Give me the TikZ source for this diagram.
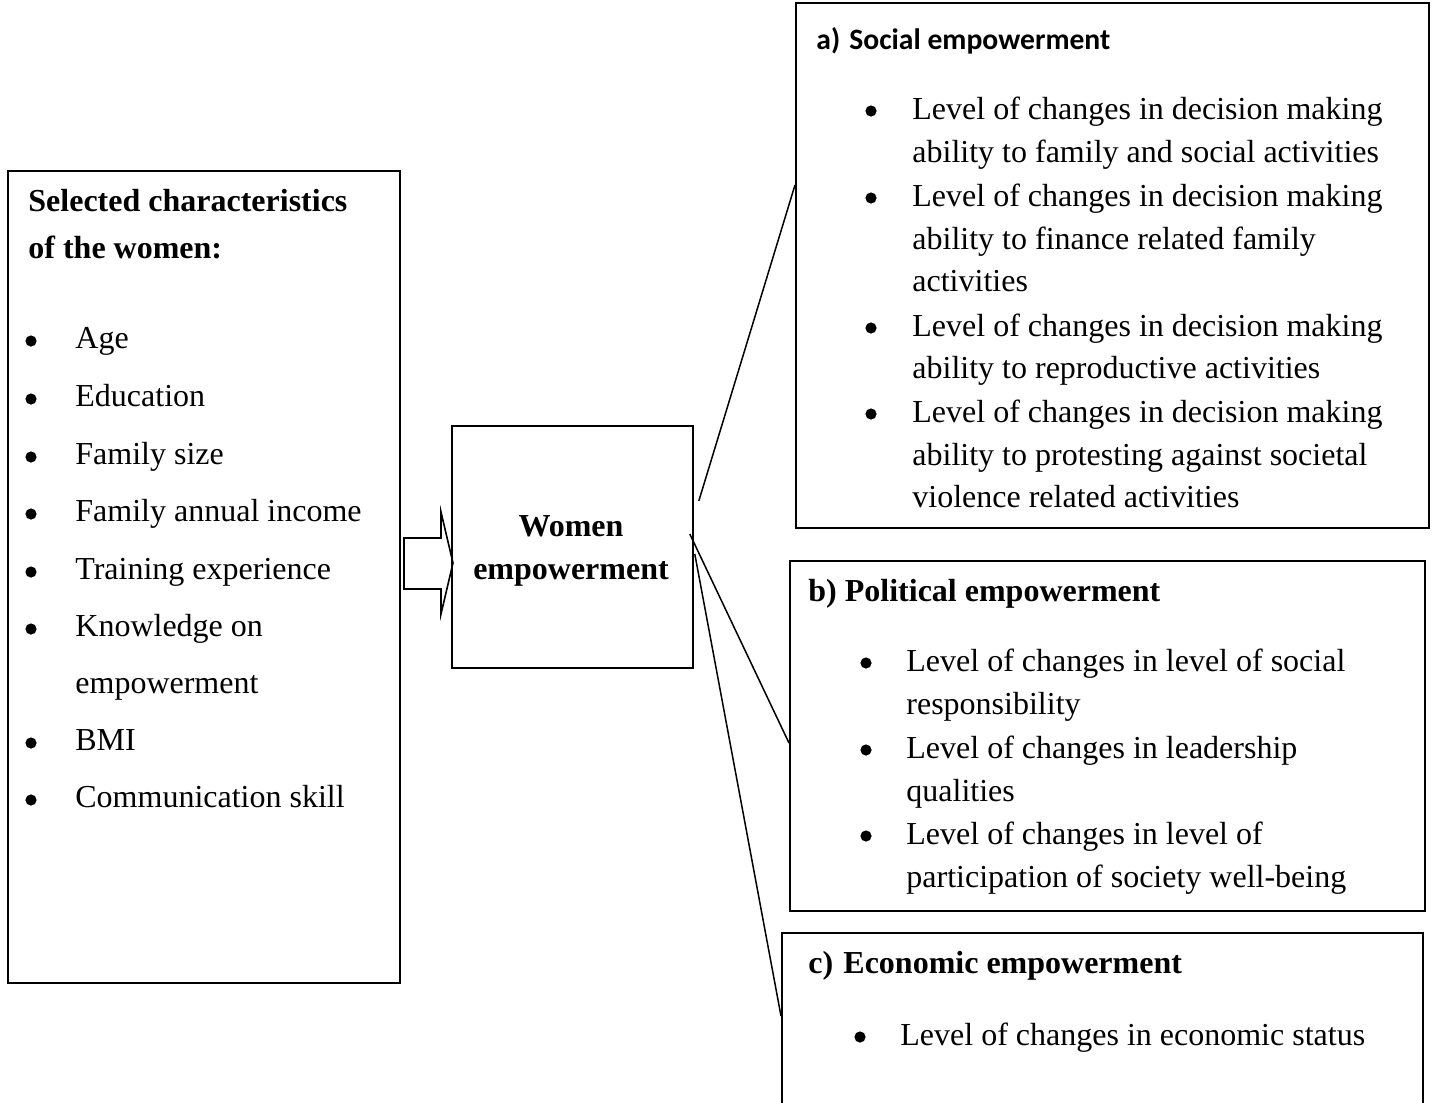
\documentclass[tikz,border=0pt]{standalone}
\usepackage{fontspec}
\setmainfont{Liberation Serif}
\newfontfamily\calibri{Carlito}
\begin{document}
\begin{tikzpicture}[x=0.5pt,y=-0.5pt,
  box/.style={draw, line width=0.9pt, inner sep=0pt, anchor=north west},
  conn/.style={line width=0.75pt},
  txt/.style={anchor=base west, inner sep=0pt, font=\fontsize{16}{21.5}\selectfont},
  hd/.style={anchor=base west, inner sep=0pt, font=\fontsize{16}{21.5}\selectfont\bfseries},
  hdc/.style={anchor=base west, inner sep=0pt, font=\fontsize{14.8}{18}\selectfont\calibri\bfseries},
  ctr/.style={anchor=base, inner sep=0pt, font=\fontsize{16}{21.5}\selectfont\bfseries},
  bul/.style={circle, fill=black, inner sep=0pt, minimum size=5.6pt}
]
\clip (0,0) rectangle (1435,1103);
\fill[white] (0,0) rectangle (1435,1103);

% boxes
\node[box, minimum width=196pt, minimum height=406pt] (chars) at (7,170) {};
\node[box, minimum width=120.5pt, minimum height=121pt] (women) at (451,425) {};
\node[box, minimum width=316.5pt, minimum height=262.5pt] (boxa) at (795,2) {};
\node[box, minimum width=317.5pt, minimum height=175pt] (boxb) at (789,560) {};
\node[box, minimum width=320.5pt, minimum height=100pt] (boxc) at (781,932) {};

% block arrow
\draw[line width=0.8pt] (404,538) -- (441,538) -- (441,512) -- (453,563) -- (441,614) -- (441,589) -- (404,589) -- cycle;

% left box text
\node[hd] (selA) at (28,211) {Selected characteristics};
\node[hd] (selB) at (28,258) {of the women:};
\foreach \y/\t [count=\i] in {348/Age, 406/Education, 464/Family size, 521/Family annual income, 579/Training experience, 636/Knowledge on, 693/empowerment, 750/BMI, 807/Communication skill}
  \node[txt] (left\i) at (75,\y) {\t};
\foreach \y [count=\i] in {348,406,464,521,579,636,750,807}
  \node[bul] (lb\i) at (31,\y-7) {};

% centre text
\node[ctr] (wA) at (571,536) {Women};
\node[ctr] (wB) at (571,579) {empowerment};

% box a
\node[hdc] (aA) at (816,49) {a)};
\node[hdc] (aB) at (849,49) {Social empowerment};
\foreach \y/\t [count=\i] in {119/Level of changes in decision making, 162/ability to family and social activities, 206/Level of changes in decision making, 249/ability to finance related family, 291/activities, 336/Level of changes in decision making, 378/ability to reproductive activities, 422/Level of changes in decision making, 465/ability to protesting against societal, 507/violence related activities}
  \node[txt] (a\i) at (912,\y) {\t};
\foreach \y [count=\i] in {119,206,336,422}
  \node[bul] (ab\i) at (871,\y-8) {};

% box b
\node[hd] (bA) at (808,601) {b) Political empowerment};
\foreach \y/\t [count=\i] in {671/Level of changes in level of social, 714/responsibility, 758/Level of changes in leadership, 801/qualities, 844/Level of changes in level of, 887/participation of society well-being}
  \node[txt] (b\i) at (906,\y) {\t};
\foreach \y [count=\i] in {671,758,844}
  \node[bul] (bb\i) at (866,\y-8) {};

% box c
\node[hd] (cA) at (808,973) {c)};
\node[hd] (cB) at (843,973) {Economic empowerment};
\node[txt] (c1) at (900,1045) {Level of changes in economic status};
\node[bul] (cb1) at (860,1037) {};

% connectors
\coordinate (sA) at ([shift={(5,76)}]women.north east);
\coordinate (eA) at ([shift={(0,183)}]boxa.north west);
\coordinate (sB) at ([shift={(-4,109)}]women.north east);
\coordinate (eB) at ([shift={(0,183)}]boxb.north west);
\coordinate (sC) at ([shift={(1,129)}]women.north east);
\coordinate (eC) at ([shift={(0,84)}]boxc.north west);
\draw[conn] (sA) -- (eA);
\draw[conn] (sB) -- (eB);
\draw[conn] (sC) -- (eC);
\end{tikzpicture}
\end{document}
